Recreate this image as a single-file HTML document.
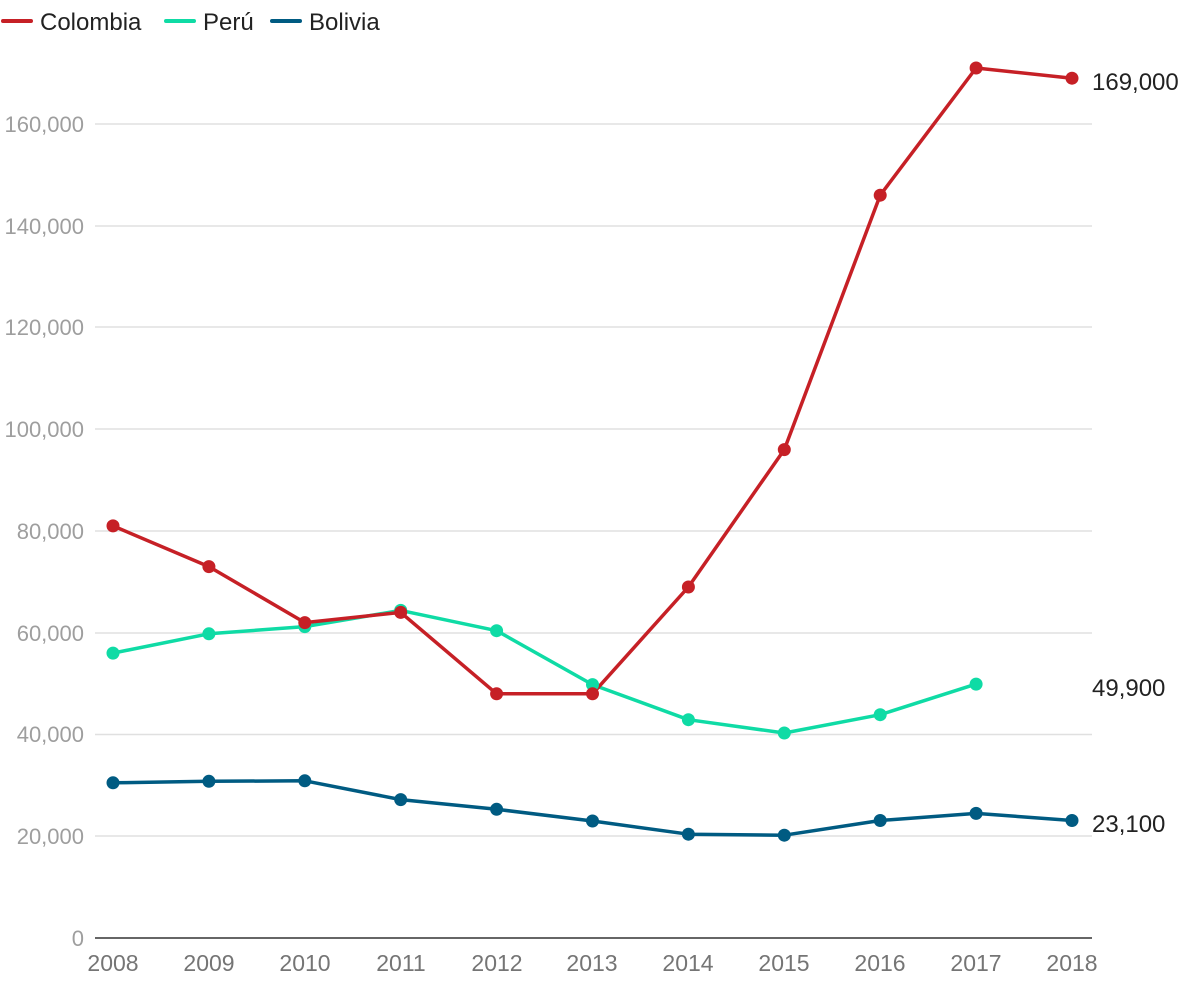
<!DOCTYPE html>
<html><head><meta charset="utf-8"><style>
body{margin:0;background:#fff;}
svg{display:block;font-family:"Liberation Sans",sans-serif;}
</style></head><body>
<svg width="1200" height="990" viewBox="0 0 1200 990">
<g stroke="#e0e0e0" stroke-width="1.5">
<line x1="95" x2="1092" y1="836" y2="836"/><line x1="95" x2="1092" y1="734.5" y2="734.5"/>
<line x1="95" x2="1092" y1="633" y2="633"/><line x1="95" x2="1092" y1="531" y2="531"/>
<line x1="95" x2="1092" y1="429" y2="429"/><line x1="95" x2="1092" y1="327" y2="327"/>
<line x1="95" x2="1092" y1="226" y2="226"/><line x1="95" x2="1092" y1="124" y2="124"/>
</g>
<line x1="95" x2="1092" y1="938" y2="938" stroke="#333" stroke-width="1.5"/>
<g fill="#9e9e9e" font-size="22" text-anchor="end">
<text x="84" y="946">0</text><text x="84" y="844">20,000</text><text x="84" y="742">40,000</text>
<text x="84" y="641">60,000</text><text x="84" y="539">80,000</text><text x="84" y="437">100,000</text>
<text x="84" y="335">120,000</text><text x="84" y="234">140,000</text><text x="84" y="132">160,000</text>
</g>
<g fill="#757575" font-size="23" text-anchor="middle">
<text x="113" y="971">2008</text><text x="209" y="971">2009</text><text x="305" y="971">2010</text>
<text x="401" y="971">2011</text><text x="497" y="971">2012</text><text x="592" y="971">2013</text>
<text x="688" y="971">2014</text><text x="784" y="971">2015</text><text x="880" y="971">2016</text>
<text x="976" y="971">2017</text><text x="1072" y="971">2018</text>
</g>
<g fill="none" stroke-width="3.5" stroke-linejoin="round">
<polyline stroke="#005b82" points="113,782.8 208.9,781.3 304.8,780.8 400.7,799.6 496.6,809.3 592.5,821 688.4,834.2 784.3,835.2 880.2,820.5 976.1,813.4 1072,820.5"/>
<polyline stroke="#0fdba5" points="113,653.1 208.9,633.8 304.8,626.6 400.7,610.4 496.6,630.7 592.5,684.6 688.4,719.7 784.3,733 880.2,714.7 976.1,684.1"/>
<polyline stroke="#c62026" points="113,525.9 208.9,566.6 304.8,622.6 400.7,612.4 496.6,693.8 592.5,693.8 688.4,587 784.3,449.6 880.2,195.2 976.1,68 1072,78.2"/>
</g>
<g fill="#005b82">
<circle cx="113" cy="782.8" r="6.5"/><circle cx="208.9" cy="781.3" r="6.5"/><circle cx="304.8" cy="780.8" r="6.5"/><circle cx="400.7" cy="799.6" r="6.5"/><circle cx="496.6" cy="809.3" r="6.5"/><circle cx="592.5" cy="821" r="6.5"/><circle cx="688.4" cy="834.2" r="6.5"/><circle cx="784.3" cy="835.2" r="6.5"/><circle cx="880.2" cy="820.5" r="6.5"/><circle cx="976.1" cy="813.4" r="6.5"/><circle cx="1072" cy="820.5" r="6.5"/>
</g>
<g fill="#0fdba5">
<circle cx="113" cy="653.1" r="6.5"/><circle cx="208.9" cy="633.8" r="6.5"/><circle cx="304.8" cy="626.6" r="6.5"/><circle cx="400.7" cy="610.4" r="6.5"/><circle cx="496.6" cy="630.7" r="6.5"/><circle cx="592.5" cy="684.6" r="6.5"/><circle cx="688.4" cy="719.7" r="6.5"/><circle cx="784.3" cy="733" r="6.5"/><circle cx="880.2" cy="714.7" r="6.5"/><circle cx="976.1" cy="684.1" r="6.5"/>
</g>
<g fill="#c62026">
<circle cx="113" cy="525.9" r="6.5"/><circle cx="208.9" cy="566.6" r="6.5"/><circle cx="304.8" cy="622.6" r="6.5"/><circle cx="400.7" cy="612.4" r="6.5"/><circle cx="496.6" cy="693.8" r="6.5"/><circle cx="592.5" cy="693.8" r="6.5"/><circle cx="688.4" cy="587" r="6.5"/><circle cx="784.3" cy="449.6" r="6.5"/><circle cx="880.2" cy="195.2" r="6.5"/><circle cx="976.1" cy="68" r="6.5"/><circle cx="1072" cy="78.2" r="6.5"/>
</g>
<g fill="#222" font-size="24">
<text x="1092" y="90">169,000</text><text x="1092" y="696">49,900</text><text x="1092" y="832">23,100</text>
</g>
<g font-size="24" fill="#222">
<line x1="3" x2="31" y1="21" y2="21" stroke="#c62026" stroke-width="4" stroke-linecap="round"/>
<text x="40" y="30">Colombia</text>
<line x1="166" x2="194" y1="21" y2="21" stroke="#0fdba5" stroke-width="4" stroke-linecap="round"/>
<text x="203" y="30">Perú</text>
<line x1="272" x2="300" y1="21" y2="21" stroke="#005b82" stroke-width="4" stroke-linecap="round"/>
<text x="309" y="30">Bolivia</text>
</g>
</svg>
</body></html>
